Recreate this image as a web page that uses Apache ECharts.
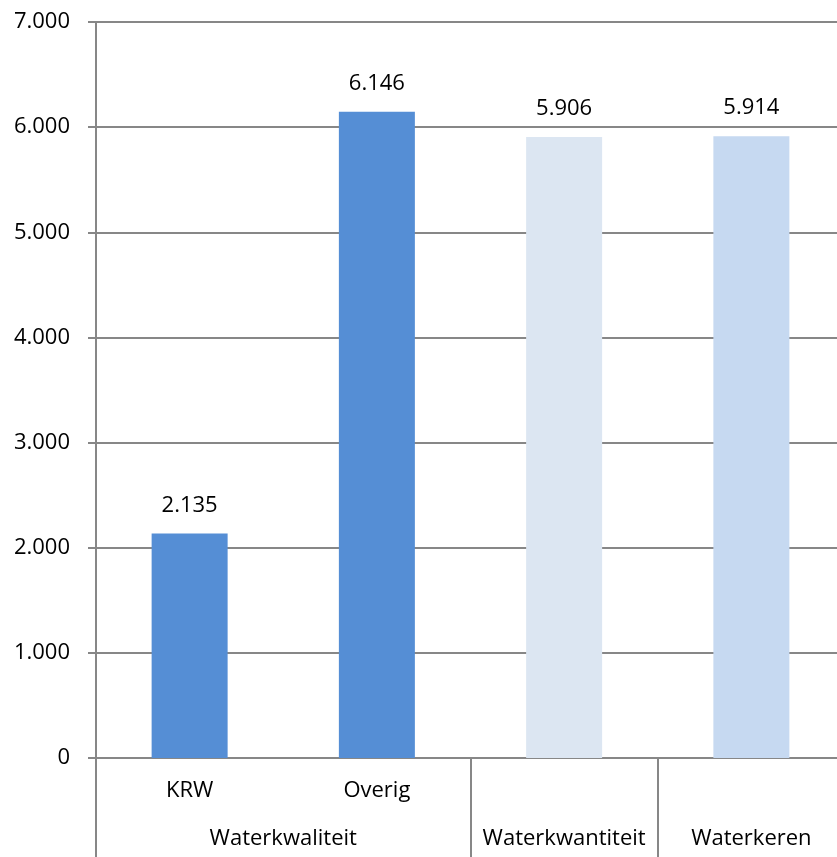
<!DOCTYPE html>
<html>
<head>
<meta charset="utf-8">
<style>
  html, body { margin: 0; padding: 0; background: #ffffff; }
  #chart { width: 837px; height: 857px; }
</style>
<script src="https://cdn.jsdelivr.net/npm/echarts@6/dist/echarts.min.js"></script>
</head>
<body>
<div id="chart"></div>
<script>
// Sub-categories (first level) and their group (second level)
const categories = ['KRW', 'Overig', 'Waterkwantiteit', 'Waterkeren'];
const subLabels = ['KRW', 'Overig', '', ''];
const values = [2135, 6146, 5906, 5914];
const barColors = ['#558ED5', '#558ED5', '#DCE6F2', '#C6D9F1'];

// Group labels, positioned on a 0..4 scale spanning the four categories
const groupNames = ['Waterkwaliteit', 'Waterkwantiteit', 'Waterkeren'];
const groupCenters = [1, 2.5, 3.5];
const groupBounds = [0, 2, 3, 4];

const yTicks = [0, 1000, 2000, 3000, 4000, 5000, 6000, 7000];

const fmt = v => String(v).replace(/\B(?=(\d{3})+(?!\d))/g, '.');
const FONT = '"Open Sans", "Liberation Sans", sans-serif';
const FS = 22;
const AXIS = '#878787';

const chart = echarts.init(document.getElementById('chart'));
chart.setOption({
  animation: false,
  // plot area runs slightly past the right edge of the canvas
  grid: {
    left: 96, top: 22, width: 749, height: 736,
    containLabel: false,
    outerBoundsMode: 'none'
  },
  xAxis: [
    {
      type: 'category',
      data: categories,
      boundaryGap: true,
      axisLine: { show: true, lineStyle: { color: AXIS, width: 2 } },
      axisTick: {
        show: true,
        length: 50,
        interval: (idx) => idx === 1,
        lineStyle: { color: AXIS, width: 2 }
      },
      axisLabel: {
        margin: 22,
        color: '#000',
        fontFamily: FONT,
        fontSize: FS,
        formatter: (v, i) => subLabels[i]
      }
    },
    {
      type: 'value',
      position: 'bottom',
      min: 0,
      max: 4,
      splitLine: { show: false },
      axisLine: { show: false },
      axisTick: {
        show: true,
        length: 99,
        customValues: groupBounds,
        lineStyle: { color: AXIS, width: 2 }
      },
      axisLabel: {
        margin: 70,
        color: '#000',
        fontFamily: FONT,
        fontSize: FS,
        customValues: groupCenters,
        formatter: (v) => groupNames[groupCenters.indexOf(v)]
      }
    }
  ],
  yAxis: {
    type: 'value',
    min: 0,
    max: 7000,
    interval: 1000,
    axisLine: { show: true, lineStyle: { color: AXIS, width: 2 } },
    axisTick: { show: true, length: 8, inside: false, lineStyle: { color: AXIS, width: 2 } },
    splitLine: { show: true, lineStyle: { color: AXIS, width: 2 } },
    axisLabel: {
      margin: 26,
      color: '#000',
      fontFamily: FONT,
      fontSize: FS,
      customValues: yTicks,
      formatter: v => fmt(v)
    }
  },
  series: [{
    type: 'bar',
    xAxisIndex: 0,
    barWidth: 76,
    data: values.map((v, i) => ({ value: v, itemStyle: { color: barColors[i] } })),
    label: {
      show: true,
      position: 'top',
      distance: 17,
      color: '#000',
      fontFamily: FONT,
      fontSize: FS,
      formatter: p => fmt(p.value)
    }
  }]
});
</script>
</body>
</html>
